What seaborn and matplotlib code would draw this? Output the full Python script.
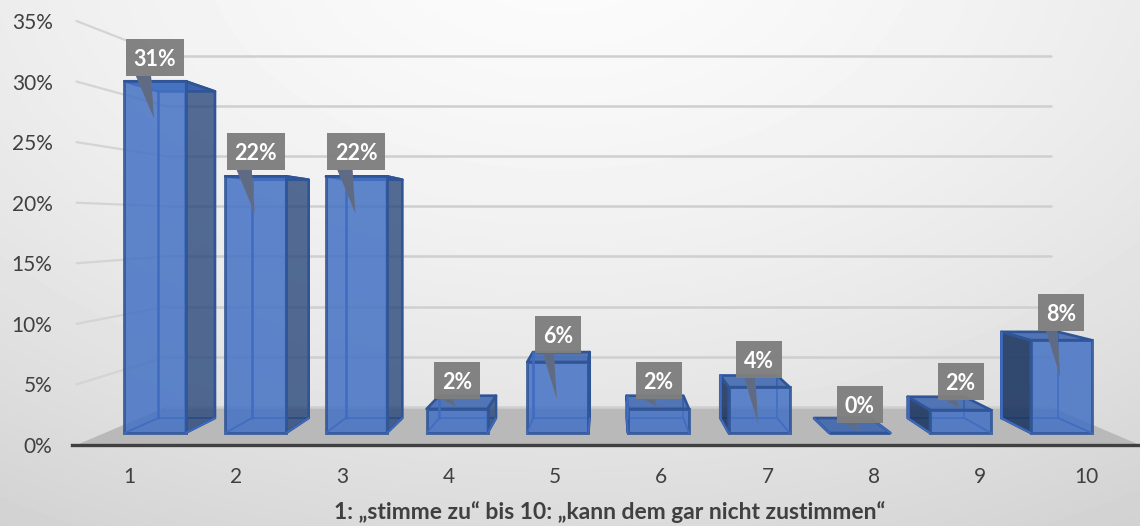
import numpy as np
import pandas as pd
import matplotlib
matplotlib.use('Agg')
import matplotlib.pyplot as plt
from matplotlib.patches import Polygon, Rectangle
import seaborn as sns

kategorien = ['1', '2', '3', '4', '5', '6', '7', '8', '9', '10']
werte = [30.7, 22.4, 22.4, 2.1, 6.2, 2.1, 4.0, 0.0, 2.0, 8.1]
y_ticks = [0, 5, 10, 15, 20, 25, 30, 35]
x_titel = '1: „stimme zu“ bis 10: „kann dem gar nicht zustimmen“'

B, H = 1140, 526
# Pixelmasse der Achse: 0% liegt bei y=445, 35% bei y=21, x von 72 bis 1140
px_y = (445 - 21) / 35
px_x = 100.7
VORNE, HINTEN = 0.316, 0.71
BREITE = 0.606


def spacing(d):
    return 106.8 - 17.9 * d


def proj(c, v, d):
    # Pseudo-3D: Kategorie c, Wert v, Tiefe d -> Datenkoordinaten der Achse
    x = 4.5 + (c - 4.5) * spacing(d) / spacing(VORNE)
    y = 38 * d / px_y + v * (px_y - 2.08 * d) / px_y
    return x, y


sns.set_theme(style='white')
plt.rcParams['font.family'] = ['Lato', 'DejaVu Sans']

fig = plt.figure(figsize=(B / 100, H / 100), dpi=100)

# Hintergrund mit Verlauf
bg = fig.add_axes([0, 0, 1, 1], zorder=0)
yy, xx = np.mgrid[0:H, 0:B]
dist = np.sqrt(((xx - 560) / 1000) ** 2 + ((yy + 60) / 640) ** 2)
bg.imshow(0.985 - 0.145 * dist ** 1.6, cmap='gray', vmin=0, vmax=1, aspect='auto')
bg.axis('off')

ax = fig.add_axes([72 / B, 1 - 445 / H, (1140 - 72) / B, (445 - 21) / H], zorder=1)
ax.patch.set_alpha(0)

# Boden
boden = [proj(-0.5, 0, 0), proj(9.5, 0, 0), proj(9.5, 0, 1), proj(-0.5, 0, 1)]
ax.add_patch(Polygon(boden, closed=True, fc='#b9b9b9', ec='none', zorder=1, clip_on=False))

# Gitterlinien an Rueck- und Seitenwand
for t in y_ticks:
    a, b, c = proj(-0.5, t, 0), proj(-0.5, t, 1), proj(9.5, t, 1)
    ax.plot([b[0], c[0]], [b[1], c[1]], color='#cfcfcf', lw=1.8, zorder=1.5, clip_on=False,
            solid_capstyle='round')
    if t > 0:
        ax.plot([a[0], b[0]], [a[1], b[1]], color='#d4d4d4', lw=1.6, zorder=1.5, clip_on=False,
                solid_capstyle='round')

# Vorderseiten der Balken
df = pd.DataFrame({'kategorie': kategorien,
                   'hoehe': [v * (px_y - 2.08 * VORNE) / px_y for v in werte]})
sns.barplot(data=df, x='kategorie', y='hoehe', ax=ax, color='#4472c4', saturation=1, alpha=0.85,
            width=BREITE, edgecolor='#2f5597', linewidth=2.1, zorder=4,
            bottom=38 * VORNE / px_y, clip_on=False)

# Seiten, Deckel und Innenkanten
for i, v in enumerate(werte):
    l, r = i - BREITE / 2, i + BREITE / 2
    vu_l, vu_r = proj(l, 0, VORNE), proj(r, 0, VORNE)
    vo_l, vo_r = proj(l, v, VORNE), proj(r, v, VORNE)
    hu_l, hu_r = proj(l, 0, HINTEN), proj(r, 0, HINTEN)
    ho_l, ho_r = proj(l, v, HINTEN), proj(r, v, HINTEN)
    kw = dict(closed=True, ec='#2f5597', lw=1.9, clip_on=False, joinstyle='round')
    ax.plot([hu_l[0], hu_r[0], hu_r[0]], [hu_l[1], hu_r[1], ho_r[1]], color='#3f6cc0', lw=1.4, zorder=3,
            clip_on=False)
    ax.plot([hu_l[0], hu_l[0]], [hu_l[1], ho_l[1]], color='#3f6cc0', lw=1.8, zorder=5, clip_on=False)
    ax.plot([vu_l[0], hu_l[0]], [vu_l[1], hu_l[1]], color='#3f6cc0', lw=1.2, zorder=5, clip_on=False)
    ax.plot([vu_r[0], hu_r[0]], [vu_r[1], hu_r[1]], color='#3f6cc0', lw=1.2, zorder=5, clip_on=False)
    if hu_r[0] > vu_r[0]:
        ax.add_patch(Polygon([vu_r, hu_r, ho_r, vo_r], fc=(0.15, 0.27, 0.47, 0.78), zorder=3.5, **kw))
    if hu_l[0] < vu_l[0]:
        ax.add_patch(Polygon([vu_l, hu_l, ho_l, vo_l], fc=(0.12, 0.22, 0.39, 0.9), zorder=3.5, **kw))
    ax.add_patch(Polygon([vo_l, vo_r, ho_r, ho_l], fc=(0.22, 0.38, 0.68, 0.85), zorder=3.6, **kw))

# Beschriftungen als graue Sprechblasen
for i, v in enumerate(werte):
    text = f'{round(v)}%'
    w = (58 if len(text) == 3 else 46) / px_x
    unten = (445 - 423) / px_y + 0.933 * v
    hoehe = 37 / px_y
    links = i - w / 2
    top = proj(i, v, VORNE)[1]
    tip = top - 37 / px_y if v > 3 else top + 2 / px_y
    basis = 10 / px_x if len(text) == 3 else 8 / px_x
    breit = 15 / px_x if len(text) == 3 else 11 / px_x
    ax.add_patch(Rectangle((links, unten), w, hoehe, fc='#7f7f7f', ec='none', alpha=0.97, zorder=7,
                           clip_on=False))
    keil = [(links + basis, unten), (links + basis + breit, unten), (i - 1 / px_x, tip)]
    ax.add_patch(Polygon(keil, closed=True, fc='#7f7f7f', ec='none', zorder=6, clip_on=False))
    dunkel = Polygon(keil, closed=True, fc='#5f6b84', ec='none', zorder=6.5, clip_on=False)
    ax.add_patch(dunkel)
    clip = Rectangle((i - BREITE / 2, 0), BREITE, max(top, proj(i, v, HINTEN)[1]), transform=ax.transData)
    dunkel.set_clip_path(clip)
    ax.text(i, unten + hoehe / 2, text, color='white', fontsize=15.5, fontweight='bold', ha='center',
            va='center_baseline', zorder=8)

ax.set_xlim((72 - 155) / px_x, (1140 - 155) / px_x)
ax.set_ylim(0, 35)
ax.set_xticks([proj(i, 0, 0)[0] for i in range(len(kategorien))], kategorien)
ax.set_yticks(y_ticks, [f'{t}%' for t in y_ticks])
ax.tick_params(axis='both', length=0, labelsize=15, labelcolor='#404040')
ax.tick_params(axis='x', pad=16)
ax.tick_params(axis='y', pad=14)
ax.set_ylabel('')
ax.set_xlabel('')
fig.text(610 / B, 1 - 512 / H, x_titel, fontsize=16.5, fontweight='bold', color='#404040',
         ha='center', va='center')
for s in ['top', 'left', 'right']:
    ax.spines[s].set_visible(False)
ax.spines['bottom'].set_color('#404040')
ax.spines['bottom'].set_linewidth(2.4)
ax.spines['bottom'].set_zorder(9)

fig.savefig('out.png', dpi=100)
